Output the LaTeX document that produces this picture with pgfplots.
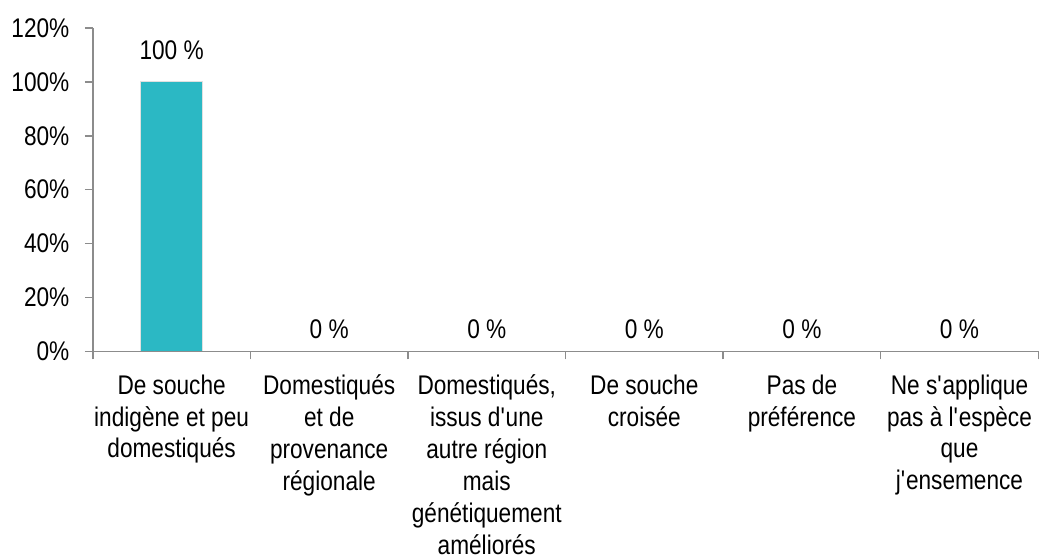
\documentclass[border=0pt]{standalone}
\usepackage{fontspec}
\setmainfont{Liberation Sans}[FakeStretch=0.84]
\usepackage{pgfplots}
\pgfplotsset{compat=1.18}
\definecolor{barteal}{RGB}{43,184,196}
\definecolor{axgray}{RGB}{140,140,140}
\begin{document}
\begin{tikzpicture}
\begin{axis}[
  name=ax,
  scale only axis, width=947bp, height=324bp,
  xmin=0, xmax=6, ymin=0, ymax=120,
  axis lines=left,
  axis line style={-, draw=axgray, line width=1.5bp},
  axis on top,
  tick align=outside,
  major tick length=8bp, minor tick length=8bp,
  every tick/.style={draw=axgray, line width=1.5bp},
  xtick={0.5,1.5,2.5,3.5,4.5,5.5},
  major x tick style={draw=none},
  minor xtick={0,1,2,3,4,5,6},
  xticklabels={
    {De souche\\indigène et peu\\domestiqués},
    {Domestiqués\\et de\\provenance\\régionale},
    {Domestiqués,\\issus d\textquotesingle une\\autre région\\mais\\génétiquement\\améliorés},
    {De souche\\croisée},
    {Pas de\\préférence},
    {Ne s\textquotesingle applique\\pas à l\textquotesingle espèce\\que\\j\textquotesingle ensemence}},
  xticklabel style={font=\fontsize{27bp}{32bp}\selectfont, align=center, inner sep=1bp, yshift=-14bp},
  ytick={0,20,...,120},
  yticklabel={\pgfmathprintnumber{\tick}\%},
  /pgf/number format/assume math mode=true,
  yticklabel style={font=\fontsize{27bp}{32bp}\selectfont, xshift=-12bp},
  ybar, bar width=62bp, bar shift=0pt,
  nodes near coords={\pgfmathprintnumber{\pgfplotspointmeta}~\%},
  every node near coord/.append style={font=\fontsize{27bp}{32bp}\selectfont, text=black},
]
\addplot[fill=barteal, draw=black!12, line width=1.2bp,
  every node near coord/.append style={yshift=18bp}] coordinates {(0.5,100)};
\addplot[fill=barteal, draw=black!12, line width=1.2bp,
  every node near coord/.append style={yshift=9bp}] coordinates {(1.5,0) (2.5,0) (3.5,0) (4.5,0) (5.5,0)};
\end{axis}
\path ([xshift=-93bp,yshift=-207bp]ax.south west) rectangle ([yshift=28bp]ax.north east);
\end{tikzpicture}
\end{document}
